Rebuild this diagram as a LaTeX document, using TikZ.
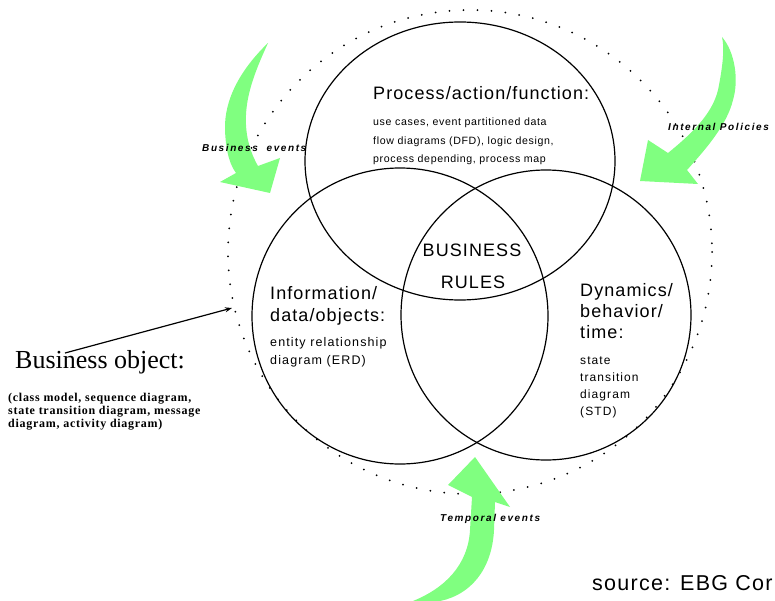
\documentclass[tikz,border=0pt]{standalone}
\usepackage{fontspec}
\setmainfont{Liberation Sans}
\newfontfamily\lblfont[LetterSpace=6]{Liberation Sans}
\newfontfamily\notefont[LetterSpace=9]{Liberation Sans}
\newfontfamily\evfont[LetterSpace=16]{Liberation Sans}
\newfontfamily\objfont{Liberation Serif}
\newfontfamily\objsmall[LetterSpace=6]{Liberation Serif}
\usetikzlibrary{calc, positioning, arrows.meta}
\definecolor{evgreen}{RGB}{128,255,128}

\begin{document}
\begin{tikzpicture}[x=1pt, y=-1pt,
  venn/.style={draw, line width=1.2pt},
  outerring/.style={draw, line width=2pt, line cap=round, dash pattern=on 0pt off 14pt},
  evarrow/.style={fill=evgreen},
  biglbl/.style={font=\lblfont\fontsize{18}{22}\selectfont, inner sep=0pt, align=left},
  smalllbl/.style={font=\notefont\fontsize{12.5}{18}\selectfont, inner sep=0pt, align=left},
  evlbl/.style={font=\evfont\bfseries\itshape\fontsize{10}{12}\selectfont, inner sep=0pt}
 ]
 \useasboundingbox (0,0) rectangle (775,601);

 \draw [outerring] (470,252) circle [radius=242];

 \draw [venn] (460,161) ellipse [x radius=155, y radius=139];
 \draw [venn] (400,316) circle [radius=148];
 \draw [venn] (546,315) circle [radius=145];

 % event arrows
 \fill [evarrow] (268,43) .. controls (240,70) and (224,100) .. (225,130)
   .. controls (226,155) and (231,166) .. (236,173) -- (220,182) -- (270,193)
   -- (280,158) -- (258,166) .. controls (250,152) and (245,135) .. (246,115)
   .. controls (247,90) and (258,65) .. (268,43) -- cycle;
 \fill [evarrow] (722,37) .. controls (735,52) and (739,80) .. (733,100)
   .. controls (727,125) and (705,150) .. (687,170) -- (698,184) -- (640,181)
   -- (648,140) -- (668,153) .. controls (690,135) and (712,115) .. (718,90)
   .. controls (722,70) and (725,50) .. (722,37) -- cycle;
 \fill [evarrow] (413,601) .. controls (445,588) and (468,565) .. (470,530)
   -- (472,497) -- (448,485) -- (475,457) -- (510,507) -- (495,502)
   -- (494,530) .. controls (492,570) and (470,595) .. (440,601) -- cycle;

 \node [biglbl, anchor=west] (proc) at (373,93) {Process/action/function:};
 \node [smalllbl, anchor=north west, font=\lblfont\fontsize{10.6}{18.5}\selectfont] (procuse) at (373,118)
   {use cases, event partitioned data\\flow diagrams (DFD), logic design,\\process depending, process map};

 \node [biglbl, anchor=north west] (info) at (270,286.5) {Information/\\data/objects:};
 \node [smalllbl, anchor=north west] (erd) at (270,337) {entity relationship\\diagram (ERD)};

 \node [biglbl, anchor=north west, font=\lblfont\fontsize{18}{21}\selectfont] (dyn) at (580,283.5) {Dynamics/\\behavior/\\time:};
 \node [smalllbl, anchor=north west, font=\notefont\fontsize{12}{16.8}\selectfont] (std) at (580,357) {state\\transition\\diagram\\(STD)};

 \node [biglbl] (rules1) at (472,250) {BUSINESS};
 \node [biglbl] (rules2) at (473,282) {RULES};

 \node [evlbl, anchor=west] (bizev) at (202,148) {Business\ \ events};
 \node [evlbl, anchor=west] (intpol) at (668,127) {Internal Policies};
 \node [evlbl, anchor=west] (tempev) at (440,519) {Temporal events};

 \node [font=\objfont\fontsize{26}{30}\selectfont, inner sep=0pt, anchor=west] (bobj) at (15,362) {Business object:};
 \node [font=\objsmall\bfseries\fontsize{12}{13}\selectfont, inner sep=0pt, align=left, anchor=north west] (bobjdiag) at (8,393)
   {(class model, sequence diagram,\\state transition diagram, message\\diagram, activity diagram)};
 \coordinate (ringpt) at (232,308);
 \draw [line width=1.2pt, -{Stealth[length=7pt, width=5pt]}] ([xshift=50pt, yshift=-3pt]bobj.north west) -- (ringpt);

 \node [font=\lblfont\fontsize{21.5}{24}\selectfont, inner sep=0pt, anchor=west] (src) at (592,583) {source: EBG Cor};
\end{tikzpicture}
\end{document}
